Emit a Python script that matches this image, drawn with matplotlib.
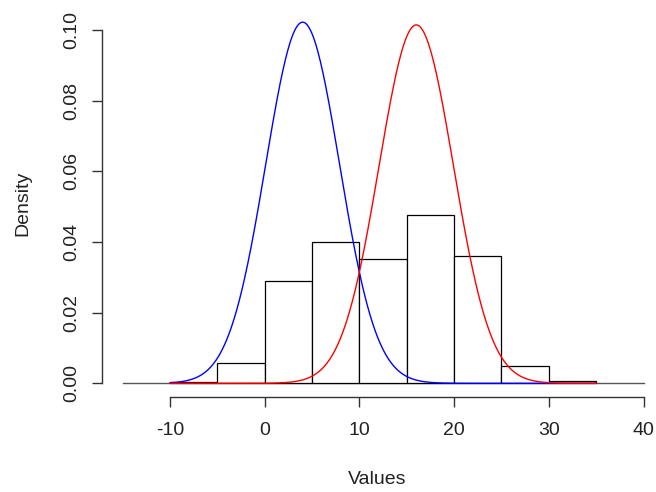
import numpy as np
import matplotlib
matplotlib.use("Agg")
import matplotlib.pyplot as plt

# histogram (density scale), breaks every 5
breaks = [-10, -5, 0, 5, 10, 15, 20, 25, 30, 35]
density = [0.0004, 0.0058, 0.0290, 0.0400, 0.0352, 0.0478, 0.0360, 0.0050, 0.0006]

# normal curves drawn over the histogram
blue_mean, blue_sd = 4, 3.90
red_mean, red_sd = 16, 3.93

xticks = [-10, 0, 10, 20, 30, 40]
yticks = [0.00, 0.02, 0.04, 0.06, 0.08, 0.10]

plt.rcParams['font.family'] = ['Liberation Sans', 'DejaVu Sans']

fig = plt.figure(figsize=(6.56, 4.92), dpi=100)
ax = fig.add_axes([102 / 656, 1 - 397.4 / 492, 551 / 656, 388.3 / 492])
ax.set_xlim(-17.19, 41.0)
ax.set_ylim(-0.004, 0.106)

# baseline
ax.plot([-15, 40], [0, 0], color='#555555', lw=1.0, zorder=1)

lefts = np.array(breaks[:-1])
ax.bar(lefts, density, width=5, align='edge', facecolor='white',
       edgecolor='black', linewidth=0.9, zorder=2)


def dnorm(x, m, s):
    return np.exp(-0.5 * ((x - m) / s) ** 2) / (s * np.sqrt(2 * np.pi))


xs = np.linspace(breaks[0], breaks[-1], 500)
ax.plot(xs, dnorm(xs, blue_mean, blue_sd), color='blue', lw=1.0, zorder=3)
ax.plot(xs, dnorm(xs, red_mean, red_sd), color='red', lw=1.0, zorder=4)

for s in ['top', 'right']:
    ax.spines[s].set_visible(False)
ax.spines['bottom'].set_bounds(-10, 40)
ax.spines['left'].set_bounds(0, 0.10)
for s in ['bottom', 'left']:
    ax.spines[s].set_color('#333333')
    ax.spines[s].set_linewidth(1.0)

ax.set_xticks(xticks)
ax.set_xticklabels([str(t) for t in xticks])
ax.set_yticks(yticks)
ax.set_yticklabels(['%.2f' % t for t in yticks], rotation=90, va='center')
ax.tick_params(length=7.5, width=1.0, color='#333333', labelsize=14,
               labelcolor='#222222')
ax.tick_params(axis='x', pad=10.5)
ax.tick_params(axis='y', pad=8)

ax.set_xlabel('Values', fontsize=14, color='#222222', labelpad=23)
ax.set_ylabel('Density', fontsize=14, color='#222222', labelpad=23)

fig.savefig('out.png', dpi=100)
